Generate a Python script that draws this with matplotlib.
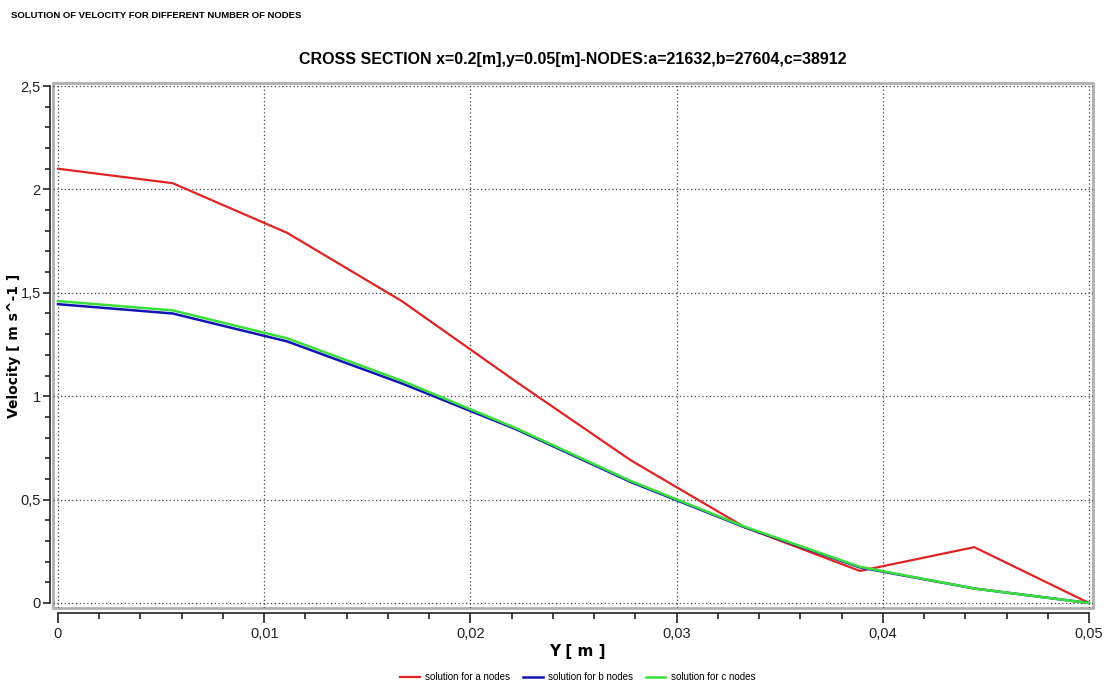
import matplotlib.pyplot as plt
import matplotlib.ticker as mticker
from matplotlib.patches import Rectangle

plt.rcParams['font.family'] = ['Liberation Sans', 'DejaVu Sans']

y_pos = [0, 0.00556, 0.01111, 0.01667, 0.02222, 0.02778, 0.03333, 0.03889, 0.04444, 0.05]
vel_a = [2.10, 2.03, 1.79, 1.46, 1.07, 0.69, 0.365, 0.155, 0.27, 0.0]
vel_b = [1.445, 1.40, 1.265, 1.062, 0.84, 0.585, 0.365, 0.172, 0.07, 0.0]
vel_c = [1.46, 1.415, 1.28, 1.075, 0.845, 0.59, 0.368, 0.175, 0.07, 0.0]

W, H = 1106, 686
fig = plt.figure(figsize=(W / 100, H / 100), dpi=100)
left, right, top, bottom = 53, 1093, 83, 608
ax = fig.add_axes([left / W, 1 - bottom / H, (right - left) / W, (bottom - top) / H])

ax.plot(y_pos, vel_a, color='#e02424', lw=1.6, label='solution for a nodes')
ax.plot(y_pos, vel_b, color='#1414b4', lw=1.8, label='solution for b nodes')
ax.plot(y_pos, vel_c, color='#3ae03a', lw=1.8, label='solution for c nodes')

px_x = 0.05 / 1031
px_y = 2.5 / 517
ax.set_xlim(-(58 - left) * px_x, 0.05 + (right - 1089) * px_x)
ax.set_ylim(-(bottom - 603) * px_y, 2.5 + (86 - top) * px_y)

# axes styled like the CFD post-processor (lengths in points)
for s in ['top', 'right']:
    ax.spines[s].set_visible(False)
ax.spines['left'].set_position(('outward', 2.2))
ax.spines['left'].set_bounds(0, 2.5)
ax.spines['bottom'].set_position(('outward', 3.8))
ax.spines['bottom'].set_bounds(0, 0.05)
for s in ['left', 'bottom']:
    ax.spines[s].set_color('#222222')
    ax.spines[s].set_linewidth(1.2)
ax.add_patch(Rectangle((0, 0), 1, 1, transform=ax.transAxes, fill=False,
                       edgecolor='#b0b0b0', lw=2.0, clip_on=False))

ax.set_xticks([0, 0.01, 0.02, 0.03, 0.04, 0.05])
ax.set_yticks([0, 0.5, 1, 1.5, 2, 2.5])
ax.xaxis.set_minor_locator(mticker.MultipleLocator(0.002))
ax.yaxis.set_minor_locator(mticker.MultipleLocator(0.1))
fmt = mticker.FuncFormatter(lambda v, p: ('%g' % round(v, 4)).replace('.', ','))
ax.xaxis.set_major_formatter(fmt)
ax.yaxis.set_major_formatter(fmt)
ax.tick_params(which='both', width=1.2, colors='#222222')
ax.tick_params(axis='y', which='major', length=5.2, labelsize=10.5, pad=1.5)
ax.tick_params(axis='y', which='minor', length=3.6)
ax.tick_params(axis='x', which='major', length=7.3, labelsize=10.5, pad=2.5)
ax.tick_params(axis='x', which='minor', length=4.4)
ax.grid(True, which='major', color='#444444', ls=(0, (1, 2)), lw=0.9)

ax.set_xlabel('Y [ m ]', fontsize=11, fontweight='bold', family=['DejaVu Sans'])
ax.xaxis.set_label_coords((577 - left) / (right - left), -(644 - bottom) / (bottom - top))
ax.set_ylabel('Velocity [ m s^-1 ]', fontsize=10, fontweight='bold', family=['DejaVu Sans'])
ax.yaxis.set_label_coords(-(left - 21) / (right - left), 0.5)
ax.set_title('CROSS SECTION x=0.2[m],y=0.05[m]-NODES:a=21632,b=27604,c=38912',
             fontsize=11.5, fontweight='bold', pad=14)
fig.text(11 / W, 1 - 16 / H, 'SOLUTION OF VELOCITY FOR DIFFERENT NUMBER OF NODES',
         fontsize=6.8, fontweight='bold', va='center')

fig.legend(loc='center', bbox_to_anchor=(578 / W, 1 - 677 / H), ncol=3, frameon=False,
           fontsize=7, handlelength=2.0, columnspacing=1.3, handletextpad=0.6)

fig.savefig('out.png', dpi=100)
